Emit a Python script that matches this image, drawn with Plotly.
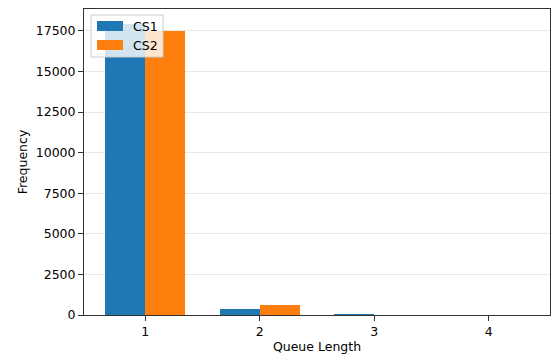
import plotly.graph_objects as go

# Queue length histogram for two service configurations
queue_lengths = [1, 2, 3, 4]
cs1_freq = [17950, 340, 25, 0]
cs2_freq = [17480, 600, 0, 0]
series_names = ["CS1", "CS2"]
series_colors = ["#1f77b4", "#ff7f0e"]
y_ticks = [0, 2500, 5000, 7500, 10000, 12500, 15000, 17500]

W, H = 553, 354
L, R, T, B = 84, 3, 9, 39
PW, PH = W - L - R, H - T - B
bar_w = 0.35
FS = 12.5

fig = go.Figure()
for name, vals, color, off in zip(series_names, [cs1_freq, cs2_freq], series_colors, [-bar_w, 0.0]):
    fig.add_trace(go.Bar(
        x=queue_lengths, y=vals, name=name, width=bar_w, offset=off,
        marker=dict(color=color, line=dict(width=0)), showlegend=False,
    ))

ymax = max(max(cs1_freq), max(cs2_freq)) * 1.05
span = (max(queue_lengths) + bar_w) - (min(queue_lengths) - bar_w)
xlo = min(queue_lengths) - bar_w - 0.05 * span
xhi = max(queue_lengths) + bar_w + 0.05 * span


def px(x):
    return (x - L) / PW


def py(y):
    return 1 - (y - T) / PH


# legend frame and entries
shapes = [dict(type="rect", xref="paper", yref="paper", layer="above",
               x0=px(91), x1=px(163), y0=py(57), y1=py(15),
               fillcolor="rgba(255,255,255,0.8)", line=dict(color="#cccccc", width=1))]
annotations = []
for i, (name, color) in enumerate(zip(series_names, series_colors)):
    yc = 26 + 19 * i
    shapes.append(dict(type="rect", xref="paper", yref="paper", layer="above",
                       x0=px(97), x1=px(123), y0=py(yc + 5), y1=py(yc - 5),
                       fillcolor=color, line=dict(width=0)))
    annotations.append(dict(xref="paper", yref="paper", x=px(131), y=py(yc),
                            text=name, showarrow=False, xanchor="left", yanchor="middle",
                            font=dict(family="DejaVu Sans", size=FS, color="#000")))

fig.update_layout(
    width=W, height=H,
    margin=dict(l=L, r=R, t=T, b=B),
    paper_bgcolor="white", plot_bgcolor="white",
    font=dict(family="DejaVu Sans", size=FS, color="#000"),
    bargap=0,
    shapes=shapes, annotations=annotations,
    xaxis=dict(range=[xlo, xhi], tickvals=queue_lengths, ticktext=[str(q) for q in queue_lengths],
               showgrid=False, zeroline=False, showline=True, linecolor="#333", linewidth=1,
               mirror=True, ticks="outside", ticklen=5, tickcolor="#333",
               title=dict(text="Queue Length", font=dict(size=FS), standoff=4)),
    yaxis=dict(range=[0, ymax], tickvals=y_ticks, ticktext=[str(v) for v in y_ticks],
               showgrid=True, gridcolor="#e8e8e8", gridwidth=1, zeroline=False,
               showline=True, linecolor="#333", linewidth=1, mirror=True,
               ticks="outside", ticklen=5, tickcolor="#333",
               title=dict(text="Frequency", font=dict(size=FS), standoff=5)),
)

fig.write_html("out.html")
